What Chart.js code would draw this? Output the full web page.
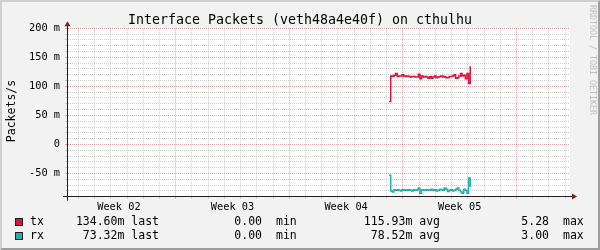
<!DOCTYPE html>
<html>
<head>
<meta charset="utf-8">
<script src="https://cdn.jsdelivr.net/npm/chart.js@4.4.1/dist/chart.umd.min.js"></script>
<style>
html,body{margin:0;padding:0;background:#F2F2F2;overflow:hidden;}
canvas{display:block;}
</style>
</head>
<body>
<canvas id="c" width="600" height="250"></canvas>
<script>
// ---------- text ----------
const chartTitle = 'Interface Packets (veth48a4e40f) on cthulhu';
const yAxisTitle = 'Packets/s';
const watermark = 'RRDTOOL / TOBI OETIKER';

// ---------- data (x: days from graph start, y: milli packets/s) ----------
const sampleDays = [19.15,19.25,19.35,19.45,19.55,19.65,19.75,19.85,19.95,20.05,
  20.15,20.25,20.35,20.45,20.55,20.65,20.75,20.85,20.95,21.05,
  21.15,21.25,21.35,21.45,21.55,21.65,21.75,21.85,21.95,22.05,
  22.15,22.25,22.35,22.45,22.55,22.65,22.75,22.85,22.95,23.05,
  23.15,23.25,23.35,23.45,23.55,23.65,23.75,23.85,23.95,24.05,24.15];
const txValues = [74,118,117,119,122,117,118,118,120,118,
  117,118,117,116,117,117,116,116,121,113,
  118,116,117,116,114,117,114,116,118,115,
  116,117,118,116,117,115,115,117,117,118,
  120,114,115,118,122,118,119,113,122,105,134.6];
const rxValues = [-53,-80,-82,-78,-79,-78,-79,-80,-78,-79,
  -78,-79,-78,-79,-80,-78,-79,-78,-75,-84,
  -78,-79,-78,-79,-78,-79,-77,-79,-78,-80,
  -79,-77,-78,-79,-75,-77,-81,-79,-78,-80,
  -79,-77,-75,-79,-82,-84,-77,-79,-84,-58,-73.3];

// ---------- axes ----------
const yMin = -90, yMax = 200, yStep = 10, yMajorStep = 50;
const yTickValues = [200,150,100,50,0,-50];
const yTickLabels = ['200 m','150 m','100 m','50 m','0','-50 m'];
const xMin = -0.7, xMax = 30.3;
const dayLines = Array.from({length:31},(_,i)=>i);
const weekBoundaryDays = [6,13,20,27];
const weekTickDays = [2.5,9.5,16.5,23.5];
const weekLabels = ['Week 02','Week 03','Week 04','Week 05'];

// ---------- legend ----------
const seriesNames = ['tx','rx'];
const seriesColors = ['#DC143C','#20B2AA'];
const statLast = ['134.60m','73.32m'];
const statMin = ['0.00','0.00'];
const statAvg = ['115.93m','78.52m'];
const statMax = ['5.28','3.00'];

const MONO = "'DejaVu Sans Mono', monospace";
const GRID = 'rgba(143,143,143,0.42)';
const MGRID = 'rgba(222,79,79,0.5)';
const AXIS = '#1F1F1F';
const ARROW = '#801F1F';

const decor = {
  id:'decor',
  beforeDraw(chart){
    const c = chart.ctx, W = chart.width, H = chart.height, a = chart.chartArea;
    c.save();
    c.fillStyle = '#F2F2F2'; c.fillRect(0,0,W,H);
    c.fillStyle = '#CFCFCF';
    c.beginPath(); c.moveTo(0,H); c.lineTo(2,H-2); c.lineTo(2,2); c.lineTo(W-2,2); c.lineTo(W,0); c.lineTo(0,0); c.closePath(); c.fill();
    c.fillStyle = '#9E9E9E';
    c.beginPath(); c.moveTo(2,H-2); c.lineTo(W-2,H-2); c.lineTo(W-2,2); c.lineTo(W,0); c.lineTo(W,H); c.lineTo(0,H); c.closePath(); c.fill();
    c.fillStyle = '#FFFFFF';
    c.fillRect(a.left, a.top, a.right-a.left, a.bottom-a.top);
    c.restore();
  },
  afterDraw(chart){
    const c = chart.ctx, a = chart.chartArea;
    c.save();
    const ax = Math.round(a.left)+0.5, ay = Math.round(a.bottom)-0.5;
    c.strokeStyle = AXIS; c.lineWidth = 1;
    c.beginPath(); c.moveTo(a.left-4, ay); c.lineTo(a.right+4, ay); c.stroke();
    c.beginPath(); c.moveTo(ax, a.bottom+4); c.lineTo(ax, a.top-4); c.stroke();
    c.fillStyle = ARROW;
    c.beginPath(); c.moveTo(a.right+2, ay-3); c.lineTo(a.right+2, ay+3); c.lineTo(a.right+7, ay); c.closePath(); c.fill();
    c.beginPath(); c.moveTo(ax-3, a.top-2); c.lineTo(ax+3, a.top-2); c.lineTo(ax, a.top-7); c.closePath(); c.fill();
    c.fillStyle = '#000';
    c.font = '13.3px ' + MONO; c.textAlign = 'center'; c.textBaseline = 'alphabetic';
    c.fillText(chartTitle, 300, 24);
    c.save();
    c.translate(12, 111); c.rotate(-Math.PI/2);
    c.font = '11.5px ' + MONO; c.textAlign = 'center'; c.textBaseline = 'middle';
    c.fillText(yAxisTitle, 0, 0);
    c.restore();
    c.save();
    c.translate(588, 5); c.rotate(Math.PI/2);
    c.font = '8.3px ' + MONO; c.fillStyle = '#BDBDBD'; c.textAlign = 'left'; c.textBaseline = 'bottom';
    c.fillText(watermark, 0, 0);
    c.restore();
    c.font = '11.5px ' + MONO; c.textBaseline = 'middle'; c.fillStyle = '#000';
    const rows = [221.7, 236.4];
    seriesNames.forEach((n,i)=>{
      const y = rows[i];
      const sq = Math.round(y-4);
      c.fillStyle = seriesColors[i]; c.fillRect(15, sq, 8, 8);
      c.strokeStyle = AXIS; c.lineWidth = 1; c.strokeRect(15.5, sq+0.5, 7, 7);
      c.fillStyle = '#000';
      c.textAlign = 'left'; c.fillText(n, 30, y);
      c.textAlign = 'right'; c.fillText(statLast[i] + ' last', 159, y);
      c.fillText(statMin[i], 262, y);
      c.textAlign = 'left'; c.fillText('min', 276, y);
      c.textAlign = 'right'; c.fillText(statAvg[i] + ' avg', 440, y);
      c.fillText(statMax[i], 549, y);
      c.textAlign = 'left'; c.fillText('max', 563, y);
    });
    c.restore();
  }
};

const xColor = (ctx) => {
  const v = ctx.tick ? ctx.tick.value : null;
  if (weekTickDays.includes(v)) return 'rgba(0,0,0,0)';
  if (weekBoundaryDays.includes(v)) return MGRID;
  return GRID;
};
const yColor = (ctx) => {
  const v = ctx.tick ? ctx.tick.value : 0;
  return (Math.abs(v % yMajorStep) < 1e-9) ? MGRID : GRID;
};

new Chart(document.getElementById('c').getContext('2d'), {
  type:'line',
  data:{
    datasets:[
      {label:seriesNames[0], data:sampleDays.map((d,i)=>({x:d,y:txValues[i]})), borderColor:seriesColors[0], borderWidth:1.5, pointRadius:0, stepped:true, fill:false},
      {label:seriesNames[1], data:sampleDays.map((d,i)=>({x:d,y:rxValues[i]})), borderColor:seriesColors[1], borderWidth:1.5, pointRadius:0, stepped:true, fill:false}
    ]
  },
  options:{
    responsive:false, animation:false, devicePixelRatio:1,
    layout:{padding:{left:0,right:30,top:28.3,bottom:0}},
    plugins:{legend:{display:false}, tooltip:{enabled:false}, title:{display:false}},
    scales:{
      x:{
        type:'linear', min:xMin, max:xMax,
        afterFit:(s)=>{ s.height = 53.3; },
        afterBuildTicks:(s)=>{
          const t = dayLines.concat(weekTickDays).sort((p,q)=>p-q);
          s.ticks = t.map(v=>({value:v}));
        },
        ticks:{autoSkip:false, maxRotation:0, minRotation:0, padding:2, color:'#000',
          font:{family:MONO, size:10.3},
          callback:(v)=>{ const i = weekTickDays.indexOf(v); return i>=0 ? weekLabels[i] : ''; }},
        grid:{color:xColor, tickColor:xColor, tickLength:2, lineWidth:1},
        border:{display:true, color:AXIS, width:1, dash:[1,1]}
      },
      y:{
        type:'linear', min:yMin, max:yMax,
        afterFit:(s)=>{ s.width = 67; },
        ticks:{stepSize:yStep, autoSkip:false, padding:5, color:'#000',
          font:{family:MONO, size:10.3},
          callback:(v)=>{ const i = yTickValues.indexOf(v); return i>=0 ? yTickLabels[i] : ''; }},
        grid:{color:yColor, tickColor:yColor, tickLength:2, lineWidth:1},
        border:{display:true, color:AXIS, width:1, dash:[1,1]}
      }
    }
  },
  plugins:[decor]
});
</script>
</body>
</html>
